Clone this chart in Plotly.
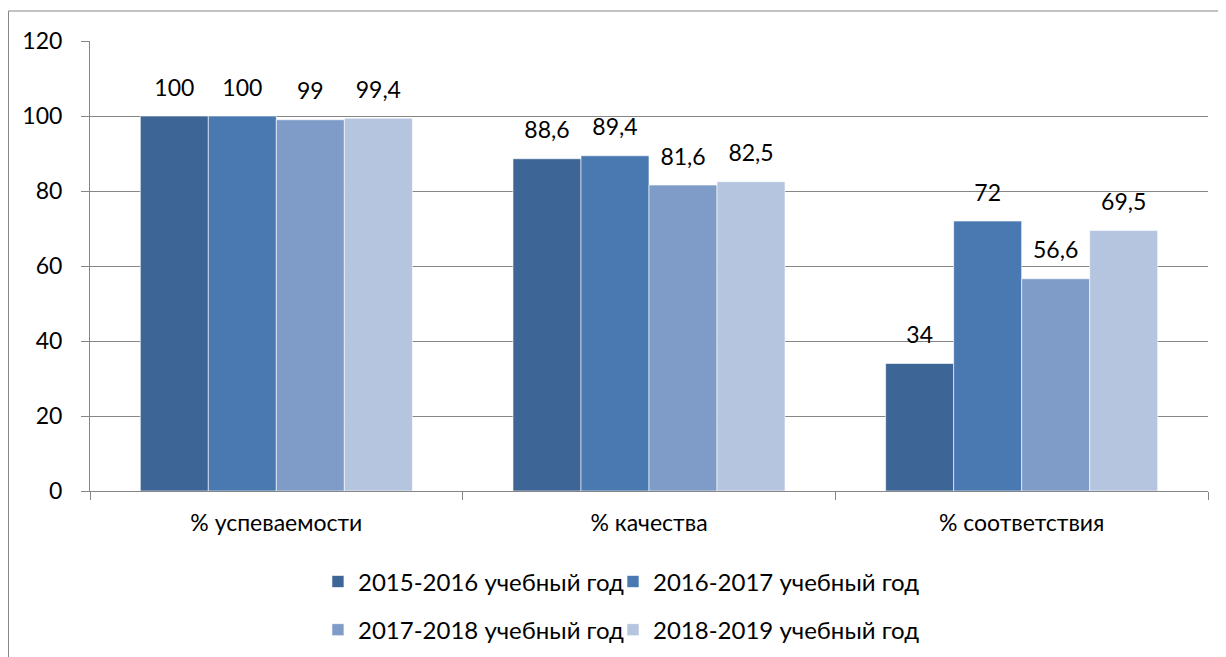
import plotly.graph_objects as go

categories = ["% успеваемости", "% качества", "% соответствия"]
series_names = ["2015-2016 учебный год", "2016-2017 учебный год",
                "2017-2018 учебный год", "2018-2019 учебный год"]
values_2015 = [100, 88.6, 34]
values_2016 = [100, 89.4, 72]
values_2017 = [99, 81.6, 56.6]
values_2018 = [99.4, 82.5, 69.5]
series_values = [values_2015, values_2016, values_2017, values_2018]
colors = ["#3D6596", "#4A79B1", "#7F9CC8", "#B5C4DF"]
y_ticks = [0, 20, 40, 60, 80, 100, 120]

FONT = "Lato"
fig = go.Figure()

def fmt(v):
    s = ("%g" % v)
    return s.replace(".", ",")

legend_ids = ["legend", "legend2", "legend3", "legend4"]
for i, (name, vals, col) in enumerate(zip(series_names, series_values, colors)):
    fig.add_trace(go.Bar(
        x=categories, y=vals, name=name,
        marker=dict(color=col, line=dict(color="rgba(255,255,255,0.6)", width=1)),
        offsetgroup=str(i),
        legend=legend_ids[i],
    ))
for i, vals in enumerate(series_values):
    fig.add_trace(go.Scatter(
        x=categories, y=vals, mode="markers+text",
        text=[fmt(v) for v in vals], textposition="top center",
        textfont=dict(family=FONT, size=23, color="#000000"),
        marker=dict(size=22, color="rgba(0,0,0,0)"),
        offsetgroup=str(i), showlegend=False, hoverinfo="skip",
    ))

legend_common = dict(orientation="h", xanchor="left", yanchor="middle",
                     font=dict(family=FONT, size=24), bgcolor="rgba(0,0,0,0)")
legend_x = [0.2039, 0.4678, 0.2039, 0.4678]
legend_y = [-0.202, -0.202, -0.309, -0.309]

fig.update_layout(
    width=1218, height=649,
    margin=dict(l=82, r=18, t=33, b=166, autoexpand=False),
    paper_bgcolor="white", plot_bgcolor="white",
    barmode="group", scattermode="group",
    bargap=0.27, bargroupgap=0,
    font=dict(family=FONT, size=22, color="#000000"),
    xaxis=dict(showgrid=False, showline=True, linecolor="#868686", linewidth=1,
               ticks="outside", tickson="boundaries", ticklen=8, tickcolor="#868686",
               tickfont=dict(family=FONT, size=23), ticklabelstandoff=11,
               automargin=False),
    yaxis=dict(range=[0, 120], tickvals=y_ticks, showgrid=True, gridcolor="#868686",
               gridwidth=1, showline=True, linecolor="#868686", linewidth=1,
               ticks="outside", ticklen=8, tickcolor="#868686",
               tickfont=dict(family=FONT, size=23), ticklabelstandoff=14,
               zeroline=False, automargin=False),
    shapes=[dict(type="rect", xref="paper", yref="paper",
                 x0=-0.0729, x1=1.03, y0=-0.39, y1=1.0667,
                 line=dict(color="#868686", width=1), fillcolor="rgba(0,0,0,0)",
                 layer="below")],
)
fig.update_layout({lid: dict(x=lx, y=ly, **legend_common)
                   for lid, lx, ly in zip(legend_ids, legend_x, legend_y)})

fig.write_html("out.html")
